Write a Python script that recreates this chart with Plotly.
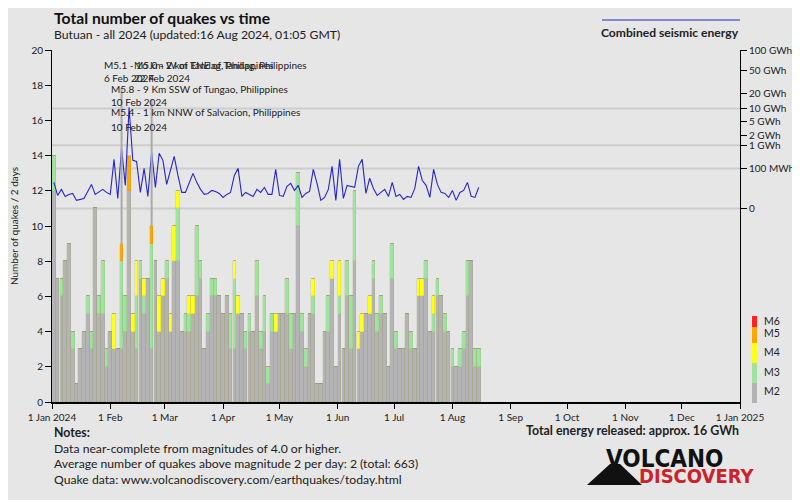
import plotly.graph_objects as go
import pandas as pd

# ---------------- data (2-day bins starting 1 Jan 2024) ----------------
m2 = [12,7,6,8,9,3,1,3,4,5,3,11,5,5,2,4,3,3,3,4,12,4,3,7,5,7,3,8,4,6,
      7,4,8,8,4,4,4,5,6,7,3,4,6,6,6,5,6,3,3,5,5,3,4,4,6,3,4,1,4,4,
      5,5,5,3,5,10,4,2,5,5,1,1,4,4,7,2,5,3,6,3,8,3,4,5,5,7,4,5,5,2,
      7,3,3,3,5,3,3,6,6,7,4,4,6,6,4,4,2,2,2,3,6,8,2,2]
m3 = [2,0,1,0,0,1,0,0,0,1,1,0,1,3,1,0,0,0,5,2,0,0,3,1,1,0,6,0,0,0,
      1,0,0,3,0,1,1,0,4,1,0,1,1,1,0,0,0,2,4,0,0,1,1,0,2,1,2,1,1,0,
      0,0,2,2,0,3,1,1,0,1,0,0,0,2,0,0,1,0,2,3,4,0,0,0,0,1,1,1,0,0,
      2,1,0,0,0,1,0,0,0,1,0,1,1,0,1,0,1,0,1,1,2,0,1,1]
m4 = [0,0,0,0,0,0,0,0,0,0,0,0,0,0,0,0,2,0,0,0,0,1,2,0,1,0,0,0,2,1,
      0,1,2,1,0,0,1,1,0,0,0,0,0,0,0,0,0,0,1,1,0,0,0,0,0,0,0,0,0,1,
      0,0,0,0,0,0,0,0,0,1,0,0,0,0,1,0,2,0,0,0,0,1,1,0,1,0,0,0,0,0,
      0,0,0,0,0,0,0,1,1,0,0,1,0,0,0,0,0,0,0,0,0,0,0,0]
m5 = [0]*114
m5[18] = 1
m5[20] = 2
m5[26] = 1
m6 = [0]*114

# combined seismic energy per bin (MWh)
energy_mwh = [12,0.37,2.5,0.25,0.54,0.76,0.033,0.06,0.10,1.4,8.0,0.54,1.4,2.5,1.05,0.54,285,0.10,783,6.5,
              10600,257,231,1.05,103,0.25,555,4.1,507,257,8.0,80,383,39,1.05,1.05,9.8,53,12,2.5,
              0.54,0.76,1.9,1.4,0.76,0.16,0.54,1.05,39,103,0.25,1.05,0.54,0.25,2.5,1.05,4.1,0.54,0.54,91,
              0.37,0.25,5.2,9.8,1.9,6.5,0.16,0.76,1.4,91,9.8,0.033,0.16,2.5,132,0.033,285,0.10,6.5,5.2,
              4.1,132,285,0.76,25,3.2,0.37,1.05,2.5,0.25,12,0.25,0.54,0.06,0.25,0.16,3.2,132,17,6.5,
              0.16,91,8.0,1.05,0.76,0.16,1.9,0.033,1.05,1.9,12,0.25,0.16,4.1]

month_ticks = ["2024-01-01","2024-02-01","2024-03-01","2024-04-01","2024-05-01","2024-06-01","2024-07-01",
               "2024-08-01","2024-09-01","2024-10-01","2024-11-01","2024-12-01","2025-01-01"]
month_labels = ["1 Jan 2024","1 Feb","1 Mar","1 Apr","1 May","1 Jun","1 Jul","1 Aug","1 Sep",
                "1 Oct","1 Nov","1 Dec","1 Jan 2025"]
energy_ticks_gwh = [100, 50, 20, 10, 5, 2, 1, 0.1, 0]
energy_tick_labels = ["100 GWh","50 GWh","20 GWh","10 GWh","5 GWh","2 GWh","1 GWh","100 MWh","0"]
energy_grid_gwh = [10, 1, 0.1, 0]

events = [
    ("2024-02-07", "M5.1 - 16 km W of Tandag, Philippines", "6 Feb 2024", 65, 78, 88),
    ("2024-02-23", "M5.0 - 2 km ENE of Tandag, Philippines", "22 Feb 2024", 65, 78, 100),
    ("2024-02-11", "M5.8 - 9 Km SSW of Tungao, Philippines", "10 Feb 2024", 89, 102, None),
    ("2024-02-11", "M5.4 - 1 km NNW of Salvacion, Philippines", "10 Feb 2024", 112, 127, None),
]

# ---------------- helpers (page pixel coords -> figure coords; page has 8px body margin) ----------------
OFF = 8
W, H = 800 - OFF, 500 - OFF
PL, PR, PT, PB = 52, 740, 50, 402          # plot area in page pixels
L, T = PL - OFF, PT - OFF
R, B = W - (PR - OFF), H - (PB - OFF)
PW, PH = PR - PL, PB - PT

def px_x(p):
    return (p - PL) / PW

def px_y(p):
    return (PB - p) / PH

def data_y(p):
    return (PB - p) / PH * 20

def e_scale(gwh):
    return 11 + 9 * (gwh / 100.0) ** 0.2

starts = pd.date_range("2024-01-01", periods=len(m2), freq="2D")
centers = starts + pd.Timedelta(days=1)
bw = 2 * 86400000 * 0.98

FONT = "Lato, 'Open Sans', sans-serif"
LOGO = "'DejaVu Sans Condensed', 'Liberation Sans Narrow', Roboto, sans-serif"
TXT = "#222222"

fig = go.Figure()
classes = [(m2, "#b4b4b4", "M2"), (m3, "#9fe39f", "M3"), (m4, "#ffff1a", "M4"),
           (m5, "#ffa500", "M5"), (m6, "#ff2020", "M6")]
for vals, col, name in classes:
    fig.add_trace(go.Bar(x=centers, y=vals, width=bw, marker=dict(color=col,
                         line=dict(color="rgba(140,140,80,0.4)", width=0.4)),
                         name=name, showlegend=False, hoverinfo="skip"))

fig.add_trace(go.Scatter(x=centers, y=[e_scale(e / 1000.0) for e in energy_mwh], mode="lines",
                         line=dict(color="#2626c8", width=1.1), yaxis="y2",
                         showlegend=False, hoverinfo="skip"))

shapes = []
for g in energy_grid_gwh:
    shapes.append(dict(type="line", xref="paper", yref="y2", x0=0, x1=1, y0=e_scale(g), y1=e_scale(g),
                       line=dict(color="#cdcdcd", width=2), layer="below"))

totals = [a + b + c + d + e for a, b, c, d, e in zip(m2, m3, m4, m5, m6)]
annotations = []
for date, txt, dtxt, y1, y2, ytop in events:
    annotations.append(dict(x=date, xref="x", xshift=-20, xanchor="left", y=px_y(y1), yref="paper",
                            yanchor="middle", text=txt, showarrow=False, font=dict(size=10, color=TXT, family=FONT)))
    annotations.append(dict(x=date, xref="x", xshift=-20, xanchor="left", y=px_y(y2), yref="paper",
                            yanchor="middle", text=dtxt, showarrow=False, font=dict(size=10, color=TXT, family=FONT)))
    if ytop is not None:
        idx = int((pd.Timestamp(date) - starts[0]).days // 2)
        shapes.append(dict(type="line", xref="x", yref="y", x0=date, x1=date, y0=data_y(ytop), y1=totals[idx],
                           line=dict(color="#aaaaaa", width=2)))

def note(x, y, text, size, anchor="left", color=TXT, family=FONT):
    return dict(x=px_x(x), y=px_y(y), xref="paper", yref="paper", xanchor=anchor, yanchor="middle",
                text=text, showarrow=False, font=dict(size=size, color=color, family=family))

annotations += [
    note(52, 18, "<b>Total number of quakes vs time</b>", 15.7, color="#111"),
    note(52, 34, "Butuan - all 2024 (updated:16 Aug 2024, 01:05 GMT)", 12.2),
    note(741, 32, "<b>Combined seismic energy</b>", 12.1, anchor="right"),
    note(52, 432, "<b>Notes:</b>", 12.3),
    note(52, 448, "Data near-complete from magnitudes of 4.0 or higher.", 12.2),
    note(52, 463, "Average number of quakes above magnitude 2 per day: 2 (total: 663)", 12.2),
    note(52, 479, "Quake data: www.volcanodiscovery.com/earthquakes/today.html", 12.2),
    note(741, 431, "<b>Total energy released: approx. 16 GWh</b>", 12.4, anchor="right"),
    note(604, 459, "<b>VOLCANO</b>", 24, color="#111", family=LOGO),
    note(637, 476, "<b>DISCOVERY</b>", 20, color="#cc2229", family=LOGO),
]

# legend line
shapes.append(dict(type="line", xref="paper", yref="paper", x0=px_x(602), x1=px_x(740), y0=px_y(20), y1=px_y(20),
                   line=dict(color="#2626c8", width=1)))
# magnitude legend
mag_leg = [("M6", "#ff2020", 316, 327, 321), ("M5", "#ffa500", 327, 343, 333), ("M4", "#ffff1a", 343, 363, 352),
           ("M3", "#9fe39f", 363, 383, 372), ("M2", "#b4b4b4", 383, 403, 391)]
for lab, col, ya, yb, yl in mag_leg:
    shapes.append(dict(type="rect", xref="paper", yref="paper", x0=px_x(752), x1=px_x(757), y0=px_y(yb), y1=px_y(ya),
                       fillcolor=col, line=dict(width=0)))
    annotations.append(note(762, yl, lab, 10.5))
# logo triangle
shapes.append(dict(type="path", xref="paper", yref="paper",
                   path="M %f %f L %f %f L %f %f L %f %f Z" % (px_x(587), px_y(485), px_x(610), px_y(464),
                                                              px_x(620), px_y(464), px_x(642), px_y(485)),
                   fillcolor="#111", line=dict(width=0)))

fig.update_layout(
    width=W, height=H, margin=dict(l=L, r=R, t=T, b=B, autoexpand=False),
    paper_bgcolor="#e6e6e6", plot_bgcolor="#e6e6e6",
    barmode="stack", bargap=0,
    font=dict(family=FONT, color=TXT, size=10),
    xaxis=dict(type="date", range=["2024-01-01", "2025-01-01"], tickvals=month_ticks, ticktext=month_labels,
               showgrid=False, showline=True, linecolor="#000", linewidth=1.5, ticks="outside", ticklen=5,
               tickcolor="#000", tickfont=dict(size=10, color=TXT), zeroline=False, automargin=False),
    yaxis=dict(range=[0, 20], dtick=2, showgrid=False, zeroline=False, showline=True, linecolor="#000",
               linewidth=1, ticks="outside", ticklen=6, tickcolor="#000", tickfont=dict(size=10, color=TXT),
               automargin=False,
               title=dict(text="Number of quakes / 2 days", font=dict(size=10, color=TXT), standoff=10)),
    yaxis2=dict(range=[0, 20], overlaying="y", side="right", tickvals=[e_scale(g) for g in energy_ticks_gwh],
                ticktext=energy_tick_labels, showgrid=False, zeroline=False, showline=True, linecolor="#000",
                linewidth=1, ticks="outside", ticklen=6, tickcolor="#000", tickfont=dict(size=10, color=TXT),
                automargin=False),
    shapes=shapes, annotations=annotations,
)

fig.write_html("out.html")
